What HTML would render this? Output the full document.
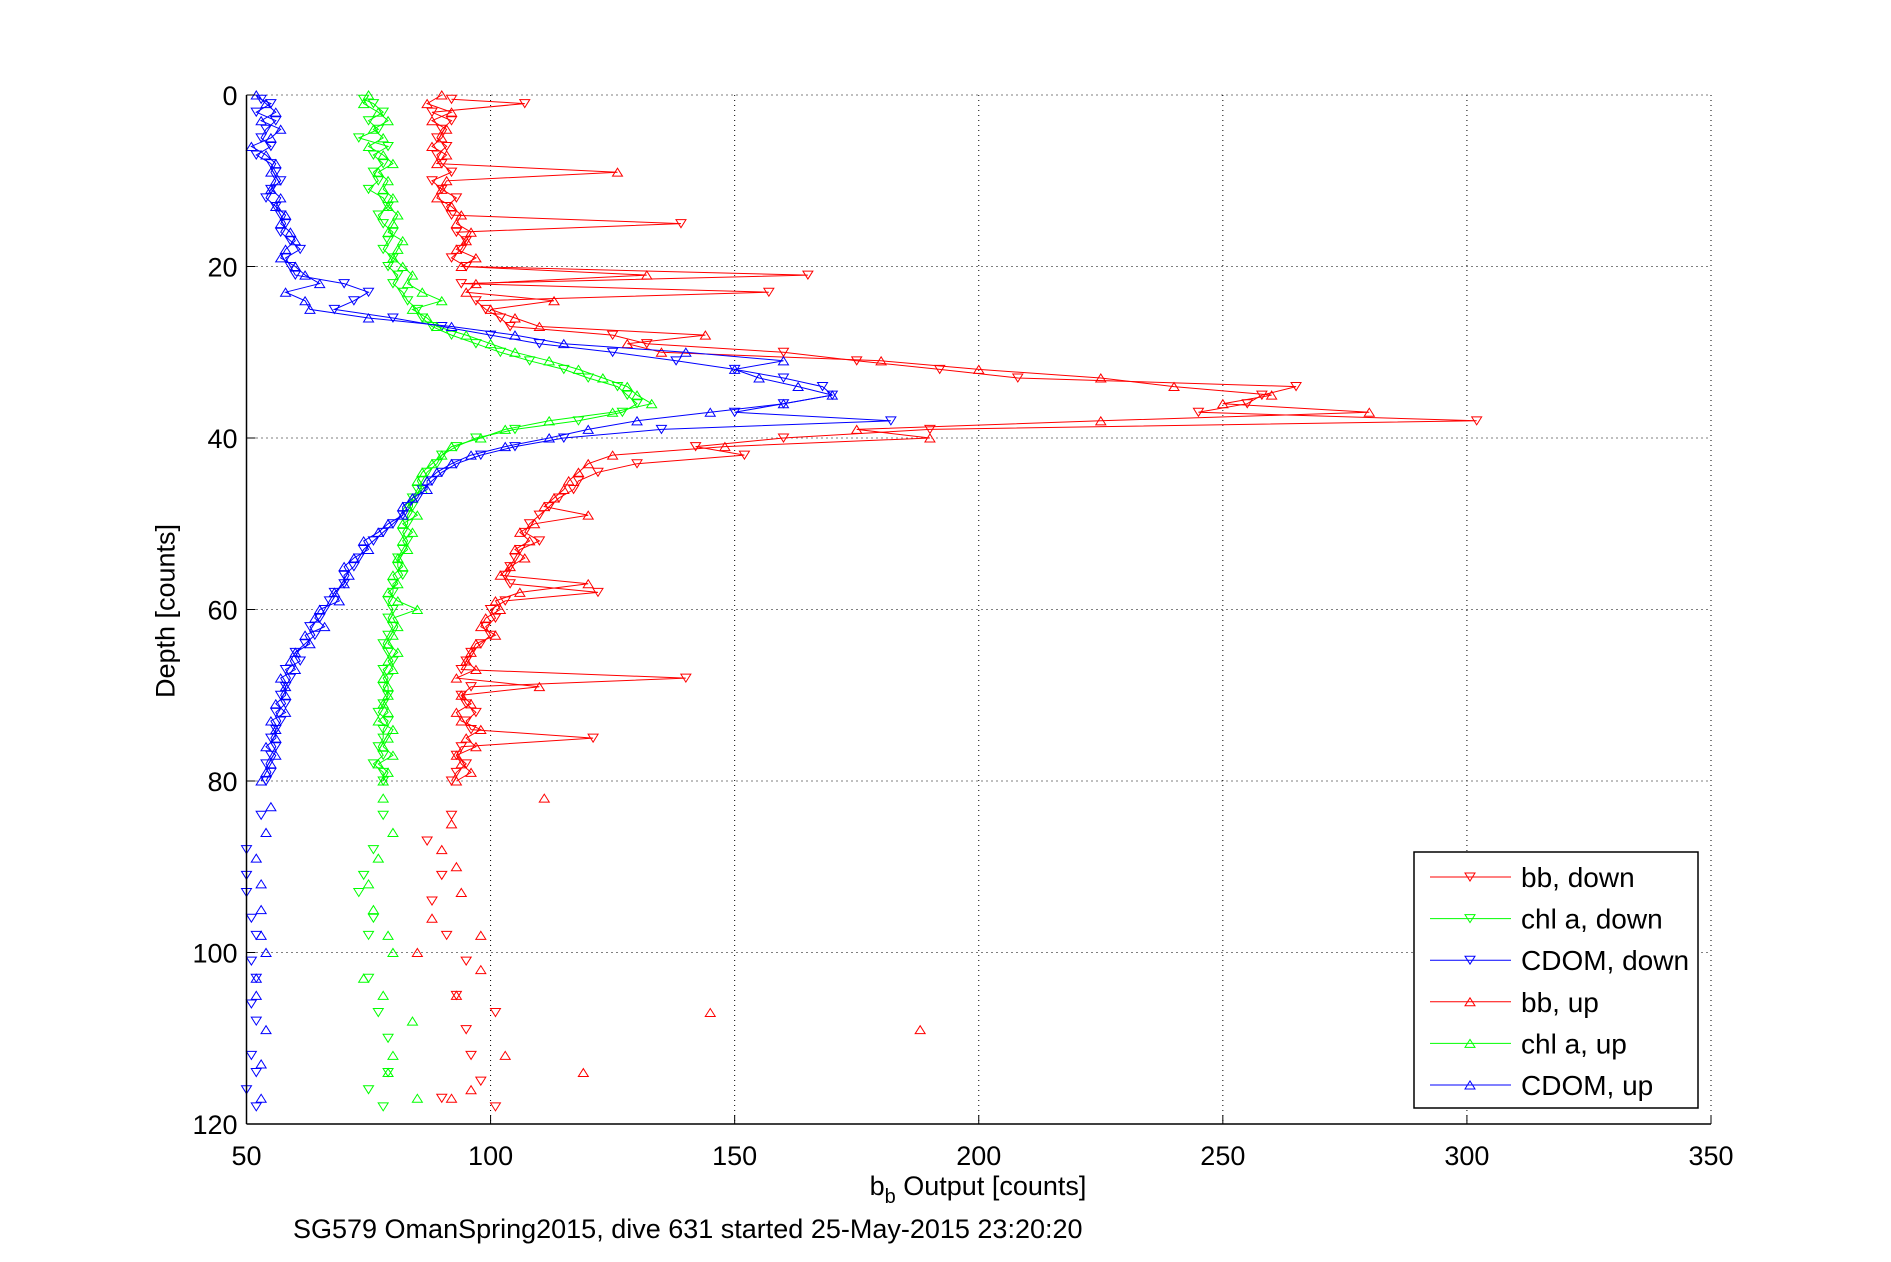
<!DOCTYPE html>
<html><head><meta charset="utf-8"><style>
body{margin:0;background:#fff;}
svg{display:block;font-family:"Liberation Sans",sans-serif;}
</style></head><body>
<svg id="chart" width="1891" height="1262">
<rect width="1891" height="1262" fill="#fff"/>
<g id="grid"></g><g id="series"></g><g id="axes"></g><g id="legend"></g>
</svg>
<script>
const xTicks=[50,100,150,200,250,300,350];
const yTicks=[0,20,40,60,80,100,120];
const bbDownD=[0.5,1,2,3,4,5,6,7,8,9,10,11,12,13,14,15,16,17,18,19,20,21,22,23,24,25,26,27,28,29,30,31,32,33,34,35,36,37,38,39,40,41,42,43,44,45,46,47,48,49,50,51,52,53,54,55,56,57,58,59,60,61,62,63,64,65,66,67,68,69,70,71,72,73,74,75,76,77,78,79,80,81,84,87,91,94,98,101,105,107,109,112,115,117,118];
const bbDownV=[92,107,88,92,90,89,91,89,90,92,88,90,93,91,92,139,93,95,94,92,95,165,94,157,97,99,102,104,125,132,160,175,192,208,265,258,255,245,302,190,160,142,152,130,122,118,117,114,112,110,108,107,110,106,105,104,103,104,122,103,100,101,99,100,98,96,95,94,140,96,94,95,97,95,96,121,94,93,95,93,92,null,92,87,90,88,91,95,93,101,95,96,98,90,101];
const bbUpD=[0,1,2,3,4,5,6,7,8,9,10,11,12,13,14,15,16,17,18,19,20,21,22,23,24,25,26,27,28,29,30,31,32,33,34,35,36,37,38,39,40,41,42,43,44,45,46,47,48,49,50,51,52,53,54,55,56,57,58,59,60,61,62,63,64,65,66,67,68,69,70,71,72,73,74,75,76,77,78,79,80,81,82,85,88,90,93,96,98,100,102,105,107,109,112,114,116,117];
const bbUpV=[90,87,92,88,91,90,88,91,89,126,91,90,89,92,94,93,96,95,93,97,94,132,97,95,113,100,105,110,144,128,135,180,200,225,240,260,250,280,225,175,190,148,125,120,118,116,115,113,111,120,109,106,108,105,107,104,102,120,106,101,102,99,98,101,97,96,95,97,93,110,94,96,93,94,98,95,97,93,94,96,93,null,111,92,90,93,94,88,98,85,98,93,145,188,103,119,96,92];
const chlDownD=[0.5,1,2,3,4,5,6,7,8,9,10,11,12,13,14,15,16,17,18,19,20,21,22,23,24,25,26,27,28,29,30,31,32,33,34,35,36,37,38,39,40,41,42,43,44,45,46,47,48,49,50,51,52,53,54,55,56,57,58,59,60,61,62,63,64,65,66,67,68,69,70,71,72,73,74,75,76,77,78,79,80,81,84,88,91,93,96,98,103,107,110,114,116,118];
const chlDownV=[74,76,78,75,77,73,79,76,78,76,77,75,78,79,77,78,80,79,78,80,79,81,80,82,83,85,86,88,92,97,102,108,115,120,126,128,130,127,118,105,97,93,90,89,87,86,85,84,84,83,83,82,83,82,81,81,82,80,80,79,80,79,80,79,78,79,80,78,79,78,79,78,77,79,78,78,77,78,76,78,78,null,78,76,74,73,76,75,75,77,79,79,75,78];
const chlUpD=[0,1,2,3,4,5,6,7,8,9,10,11,12,13,14,15,16,17,18,19,20,21,22,23,24,25,26,27,28,29,30,31,32,33,34,35,36,37,38,39,40,41,42,43,44,45,46,47,48,49,50,51,52,53,54,55,56,57,58,59,60,61,62,63,64,65,66,67,68,69,70,71,72,73,74,75,76,77,78,79,80,81,82,86,89,92,95,98,100,103,105,108,112,114,117];
const chlUpV=[75,74,77,79,76,78,75,78,80,77,79,78,80,79,81,80,79,82,81,80,82,84,83,86,90,84,87,89,95,100,105,112,118,123,128,130,133,125,112,103,98,92,90,88,86,85,86,84,83,85,82,84,82,83,81,82,80,81,79,81,85,80,81,80,79,81,79,80,78,79,79,78,79,77,80,79,78,80,77,79,78,null,78,80,77,75,76,79,80,74,78,84,80,79,85];
const cdomDownD=[0.5,1,2,3,4,5,6,7,8,9,10,11,12,13,14,15,16,17,18,19,20,21,22,23,24,25,26,27,28,29,30,31,32,33,34,35,36,37,38,39,40,41,42,43,44,45,46,47,48,49,50,51,52,53,54,55,56,57,58,59,60,61,62,63,64,65,66,67,68,69,70,71,72,73,74,75,76,77,78,79,80,81,84,88,91,93,96,98,101,103,106,108,112,114,116,118];
const cdomDownV=[53,55,52,56,54,53,55,52,55,56,57,55,54,56,57,58,57,59,61,58,59,60,70,75,72,68,80,90,100,110,125,138,150,160,168,170,160,150,182,135,115,105,98,93,90,88,86,85,83,82,80,78,76,74,73,72,70,70,68,67,66,65,63,64,62,60,61,58,59,58,57,58,56,57,56,55,56,55,54,55,54,null,53,50,50,50,51,52,51,52,51,52,51,52,50,52];
const cdomUpD=[0,1,2,3,4,5,6,7,8,9,10,11,12,13,14,15,16,17,18,19,20,21,22,23,24,25,26,27,28,29,30,31,32,33,34,35,36,37,38,39,40,41,42,43,44,45,46,47,48,49,50,51,52,53,54,55,56,57,58,59,60,61,62,63,64,65,66,67,68,69,70,71,72,73,74,75,76,77,78,79,80,81,83,86,89,92,95,98,100,103,105,109,113,117];
const cdomUpV=[52,54,56,53,57,55,51,54,56,55,56,55,57,56,58,57,59,60,58,57,60,62,65,58,62,63,75,92,105,115,140,160,150,155,163,170,160,145,130,120,112,103,96,92,89,87,87,84,82,82,79,77,74,75,72,70,71,70,68,69,65,64,66,62,63,60,59,60,57,58,58,56,58,55,56,56,54,56,55,54,53,null,55,54,52,53,53,53,54,52,52,54,53,53];

const L=246.5,R=1711,T=95,B=1124;
const sx=v=>L+(v-50)/300*(R-L);
const sy=d=>T+d/120*(B-T);
const NS='http://www.w3.org/2000/svg';
function mk(tag,attrs,parent){const e=document.createElementNS(NS,tag);for(const k in attrs)e.setAttribute(k,attrs[k]);parent.appendChild(e);return e;}
const grid=document.getElementById('grid'),axes=document.getElementById('axes'),ser=document.getElementById('series'),leg=document.getElementById('legend');
xTicks.forEach(t=>{
  if(t>50){const g=mk('line',{x1:sx(t),x2:sx(t),y1:T,y2:B,stroke:'#000','stroke-width':1,'stroke-dasharray':'1,4'},grid);
  
  }
  mk('line',{x1:sx(t),x2:sx(t),y1:B,y2:B-9,stroke:'#000'},axes);
  const tx=mk('text',{x:sx(t),y:B+41,'text-anchor':'middle','font-size':27},axes);
  tx.textContent=t;
  
  
});
yTicks.forEach(t=>{
  if(t<120){const g=mk('line',{x1:L,x2:R,y1:sy(t),y2:sy(t),stroke:'#000','stroke-width':1,'stroke-dasharray':'1,4'},grid);
  
  }
  mk('line',{x1:L,x2:L+9,y1:sy(t),y2:sy(t),stroke:'#000'},axes);
  const tx=mk('text',{x:L-9,y:sy(t)+10,'text-anchor':'end','font-size':27},axes);
  tx.textContent=t;
  
  
});
const xa=mk('line',{x1:L,x2:R,y1:B,y2:B,stroke:'#000','stroke-width':1.5},axes);


const ya=mk('line',{x1:L,x2:L,y1:T,y2:B,stroke:'#000','stroke-width':1.5},axes);



function tri(x,y,down,col,parent){
  const p=down?`${x-5},${y-4} ${x+5},${y-4} ${x},${y+4}`:`${x-5},${y+4} ${x+5},${y+4} ${x},${y-4}`;
  return mk('polygon',{points:p,fill:'none',stroke:col,'stroke-width':1},parent);
}
function drawSeries(D,V,col,down,name){
  const g=mk('g',{},ser);
  
  
  let path='',pen=false;
  for(let i=0;i<D.length;i++){
    if(V[i]===null){pen=false;continue;}
    path+=(pen?'L':'M')+sx(V[i]).toFixed(1)+','+sy(D[i]).toFixed(1);pen=true;
  }
  // lines only through the continuous upper part
  const cut=path.split('M').filter(s=>s);
  mk('path',{d:'M'+cut[0],fill:'none',stroke:col,'stroke-width':1},g);
  for(let i=0;i<D.length;i++){if(V[i]===null)continue;
    const m=tri(sx(V[i]),sy(D[i]),down,col,g);
    
    }
}
drawSeries(bbDownD,bbDownV,'#f00',true,'bb-down-series');
drawSeries(chlDownD,chlDownV,'#0f0',true,'chl-down-series');
drawSeries(cdomDownD,cdomDownV,'#00f',true,'cdom-down-series');
drawSeries(bbUpD,bbUpV,'#f00',false,'bb-up-series');
drawSeries(chlUpD,chlUpV,'#0f0',false,'chl-up-series');
drawSeries(cdomUpD,cdomUpV,'#00f',false,'cdom-up-series');

const lb=mk('rect',{x:1414,y:852,width:284,height:256,fill:'#fff',stroke:'#000','stroke-width':1.5},leg);


const legNames=['bb, down','chl a, down','CDOM, down','bb, up','chl a, up','CDOM, up'];
const legCols=['#f00','#0f0','#00f','#f00','#0f0','#00f'];
legNames.forEach((n,i)=>{
  const y=877+i*41.6;
  const g=mk('g',{},leg);
  
  
  mk('line',{x1:1430,x2:1511,y1:y,y2:y,stroke:legCols[i]},g);
  tri(1470,y,i<3,legCols[i],g);
  const t=mk('text',{x:1521,y:y+10,'font-size':28},g);t.textContent=n;
});
</script>
<svg width="0" height="0"></svg>
<div style="position:absolute;left:0;top:0;width:1891px;height:1262px;pointer-events:none;">
<div style="position:absolute;left:166px;top:611px;transform:translate(-50%,-50%) rotate(-90deg);font:27px 'Liberation Sans',sans-serif;white-space:nowrap;">Depth [counts]</div>
<div style="position:absolute;left:978px;top:1190px;transform:translate(-50%,-50%);font:27px 'Liberation Sans',sans-serif;white-space:nowrap;">b<sub style="font-size:20px;vertical-align:-8px">b</sub> Output [counts]</div>
<div style="position:absolute;left:293px;top:1214px;font:27px 'Liberation Sans',sans-serif;white-space:nowrap;">SG579 OmanSpring2015, dive 631 started 25-May-2015 23:20:20</div>
</div>
</body></html>
